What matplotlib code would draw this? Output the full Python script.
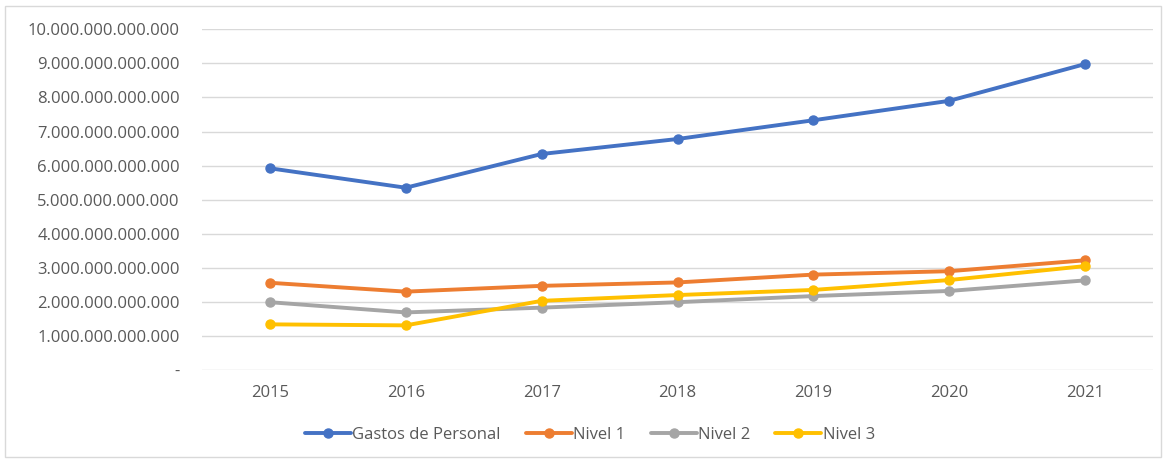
import matplotlib
matplotlib.use("Agg")
import matplotlib.pyplot as plt
from matplotlib.patches import Rectangle
from matplotlib.ticker import FuncFormatter

years = ["2015", "2016", "2017", "2018", "2019", "2020", "2021"]
gastos = [5.92e12, 5.35e12, 6.34e12, 6.78e12, 7.33e12, 7.90e12, 8.98e12]
nivel1 = [2.56e12, 2.30e12, 2.47e12, 2.57e12, 2.80e12, 2.90e12, 3.22e12]
nivel2 = [1.99e12, 1.69e12, 1.83e12, 1.99e12, 2.17e12, 2.32e12, 2.63e12]
nivel3 = [1.34e12, 1.31e12, 2.03e12, 2.20e12, 2.35e12, 2.64e12, 3.05e12]
yticks = [i * 1e12 for i in range(11)]

series = [
    ("Gastos de Personal", gastos, "#4472C4"),
    ("Nivel 1", nivel1, "#ED7D31"),
    ("Nivel 2", nivel2, "#A5A5A5"),
    ("Nivel 3", nivel3, "#FFC000"),
]

plt.rcParams['font.family'] = ['Open Sans', 'DejaVu Sans']
fig = plt.figure(figsize=(11.66, 4.63), dpi=100)
fig.patches.append(Rectangle((5/1166, 6/463), 1 - 10/1166, 1 - 12/463, transform=fig.transFigure,
                             fill=False, edgecolor="#D9D9D9", linewidth=1))
ax = fig.add_axes([202/1166, 1 - 370/463, (1153 - 202)/1166, (370 - 29.3)/463])

x = list(range(len(years)))
for name, vals, col in series:
    ax.plot(x, vals, color=col, linewidth=2.8, marker="o", markersize=6.5, label=name,
            solid_capstyle="round", zorder=3)

ax.set_xlim(-0.5, len(years) - 0.5)
ax.set_ylim(0, 10e12)
ax.set_yticks(yticks)

def fmt(v, pos):
    if v == 0:
        return "-"
    return f"{int(round(v)):,}".replace(",", ".")

ax.yaxis.set_major_formatter(FuncFormatter(fmt))
ax.set_xticks(x)
ax.set_xticklabels(years)
ax.grid(axis="y", color="#D9D9D9", linewidth=1)
ax.set_axisbelow(True)
for s in ax.spines.values():
    s.set_visible(False)
ax.tick_params(axis="both", length=0, labelsize=12, colors="#595959")
ax.tick_params(axis="y", pad=16)
ax.tick_params(axis="x", pad=11)

leg = fig.legend(loc="center", bbox_to_anchor=(590/1166, 1 - 435/463), ncol=4, frameon=False,
                 fontsize=12, handlelength=2.76, columnspacing=1.5, handletextpad=0.1)
for t in leg.get_texts():
    t.set_color("#595959")

fig.savefig("out.png", dpi=100)
